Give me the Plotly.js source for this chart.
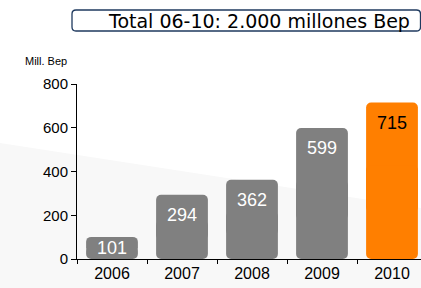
<!DOCTYPE html>
<html>
<head>
<meta charset="utf-8">
<script src="https://cdn.plot.ly/plotly-3.0.1.min.js"></script>
<style>html,body{margin:0;padding:0;background:#fff;}#chart{width:421px;height:288px;}</style>
</head>
<body>
<div id="chart"></div>
<script>
var years = ["2006", "2007", "2008", "2009", "2010"];
var values = [101, 294, 362, 599, 715];
var barColors = ["#808080", "#808080", "#808080", "#808080", "#ff7f00"];
var labelColors = ["#ffffff", "#ffffff", "#ffffff", "#ffffff", "#000000"];
var yTicks = [0, 200, 400, 600, 800];
var unitLabel = "Mill. Bep";
var boxTitle = "Total 06-10: 2.000 millones Bep";

var W = 421, H = 288;
var M = {l: 77, r: 0, t: 84, b: 29};
var pw = W - M.l - M.r, ph = H - M.t - M.b;
function px2x(px) { return (px - M.l) / pw; }
function py2y(py) { return 1 - (py - M.t) / ph; }
var yMax = 800;

// upper part (rounded top) and lower part (rounded bottom), overlapping in the middle
var up = {
  type: "bar", x: years,
  base: values.map(function (v) { return v * 0.3; }),
  y: values.map(function (v) { return v * 0.7; }),
  width: 0.74, marker: {color: barColors, cornerradius: 5, line: {width: 0}},
  hoverinfo: "skip", showlegend: false
};
var down = {
  type: "bar", x: years,
  base: values.map(function (v) { return v * 0.6; }),
  y: values.map(function (v) { return -v * 0.6; }),
  width: 0.74, marker: {color: barColors, cornerradius: 5, line: {width: 0}},
  hoverinfo: "skip", showlegend: false
};

var annotations = values.map(function (v, i) {
  var hpx = v / yMax * ph;
  var small = hpx < 40;
  return {
    x: i, y: small ? v / 2 : v, xref: "x", yref: "y",
    text: String(v), showarrow: false,
    yanchor: small ? "middle" : "top", yshift: small ? 0 : -8,
    font: {family: "Liberation Sans", size: 18, color: labelColors[i]}
  };
});
annotations.push({
  xref: "paper", yref: "paper", x: px2x(259), y: py2y(21),
  text: boxTitle, showarrow: false, xanchor: "center", yanchor: "middle",
  font: {family: "DejaVu Sans", size: 19, color: "#000"}
});
annotations.push({
  xref: "paper", yref: "paper", x: px2x(23), y: py2y(61),
  text: unitLabel, showarrow: false, xanchor: "left", yanchor: "middle",
  font: {family: "Liberation Sans", size: 11, color: "#000"}
});

function roundRect(x0, y0, x1, y1, r) {
  var X = px2x, Y = py2y;
  return "M" + X(x0 + r) + "," + Y(y0) +
    " L" + X(x1 - r) + "," + Y(y0) + " Q" + X(x1) + "," + Y(y0) + " " + X(x1) + "," + Y(y0 + r) +
    " L" + X(x1) + "," + Y(y1 - r) + " Q" + X(x1) + "," + Y(y1) + " " + X(x1 - r) + "," + Y(y1) +
    " L" + X(x0 + r) + "," + Y(y1) + " Q" + X(x0) + "," + Y(y1) + " " + X(x0) + "," + Y(y1 - r) +
    " L" + X(x0) + "," + Y(y0 + r) + " Q" + X(x0) + "," + Y(y0) + " " + X(x0 + r) + "," + Y(y0) + " Z";
}

var shapes = [
  {
    type: "path", xref: "paper", yref: "paper", layer: "below",
    path: "M" + px2x(0) + "," + py2y(143) + " L" + px2x(421) + "," + py2y(208) +
      " L" + px2x(421) + "," + py2y(288) + " L" + px2x(0) + "," + py2y(288) + " Z",
    fillcolor: "#f8f8f8", line: {width: 0}
  },
  {
    type: "path", xref: "paper", yref: "paper",
    path: roundRect(72, 10, 420.5, 31, 4),
    fillcolor: "rgba(0,0,0,0)", line: {color: "#1f3a5f", width: 1.3}
  }
];

var layout = {
  width: W, height: H, margin: M,
  paper_bgcolor: "#ffffff", plot_bgcolor: "rgba(0,0,0,0)",
  barmode: "overlay", showlegend: false,
  font: {family: "Liberation Sans", color: "#000"},
  xaxis: {
    type: "category", range: [-0.5, -0.5 + pw / 70],
    showline: true, linecolor: "#000", linewidth: 1,
    ticks: "outside", ticklen: 4, tickcolor: "#000", tickson: "boundaries",
    showgrid: false, zeroline: false, fixedrange: true,
    tickfont: {family: "Liberation Sans", size: 16, color: "#000"}
  },
  yaxis: {
    range: [0, yMax], tickvals: yTicks, ticktext: yTicks.map(String),
    showline: true, linecolor: "#000", linewidth: 1,
    ticks: "outside", ticklen: 5, tickcolor: "#000",
    showgrid: false, zeroline: false, fixedrange: true,
    tickfont: {family: "Liberation Sans", size: 15, color: "#000"}
  },
  annotations: annotations,
  shapes: shapes
};

Plotly.newPlot("chart", [up, down], layout, {staticPlot: true, displayModeBar: false});
</script>
</body>
</html>
